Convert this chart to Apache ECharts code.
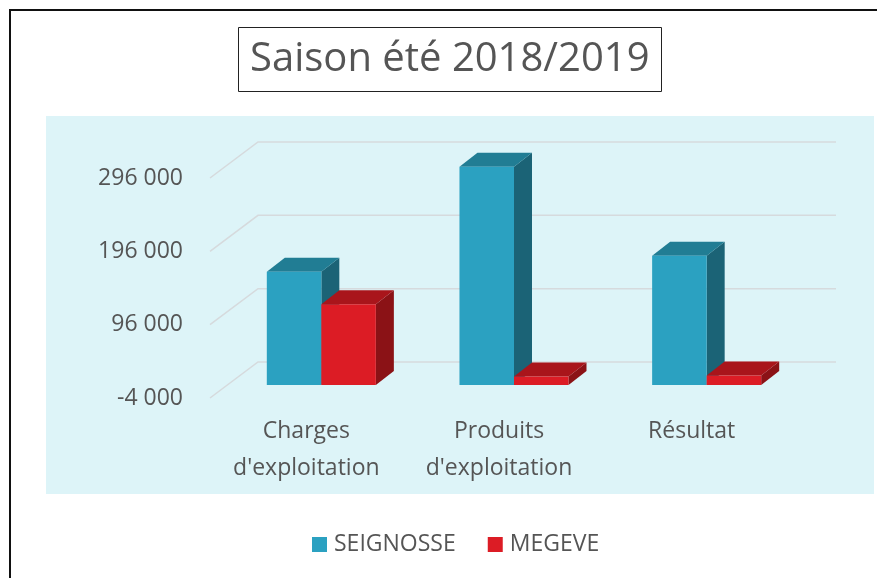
<!DOCTYPE html>
<html>
<head>
<meta charset="utf-8">
<script src="https://cdn.jsdelivr.net/npm/echarts@6/dist/echarts.min.js"></script>
<style>
  html, body { margin: 0; padding: 0; background: #fff; }
  #chart { width: 877px; height: 578px; }
</style>
</head>
<body>
<div id="chart"></div>
<script>
// data
const categories = ['Charges\nd\'exploitation', 'Produits\nd\'exploitation', 'Résultat']
const seignosse = [150500, 293700, 172300]
const megeve = [106000, 7500, 9000]
const yTicks = [-4000, 96000, 196000, 296000]
const seriesNames = ['SEIGNOSSE', 'MEGEVE']

const FONT = '"Open Sans", sans-serif'
const TEXT = '#555'
const DEPTH = [48, -36]       // back wall offset of the fake 3d box
const BAR_SHIFT = [15, -13]   // bar front face sits a bit inside the box
const BAR_DEPTH = [18, -14]

function fmt(v) {
    return String(v).replace(/\B(?=(\d{3})+(?!\d))/g, ' ')
}

function barRenderer(side, colors) {
    return function (params, api) {
        const idx = api.value(0)
        const base = api.coord([idx, yTicks[0]])
        const top = api.coord([idx, api.value(1)])
        const w = api.size([1, 0])[0] * 0.283
        const x0 = base[0] + (side < 0 ? -w : 0) + BAR_SHIFT[0]
        const yb = base[1] + BAR_SHIFT[1]
        const yt = top[1] + BAR_SHIFT[1]
        const dx = BAR_DEPTH[0], dy = BAR_DEPTH[1]
        return {
            type: 'group',
            children: [
                {
                    type: 'polygon',
                    shape: { points: [[x0 + w, yt], [x0 + w + dx, yt + dy], [x0 + w + dx, yb + dy], [x0 + w, yb]] },
                    style: { fill: colors.side }
                },
                {
                    type: 'polygon',
                    shape: { points: [[x0, yt], [x0 + dx, yt + dy], [x0 + w + dx, yt + dy], [x0 + w, yt]] },
                    style: { fill: colors.top }
                },
                {
                    type: 'rect',
                    shape: { x: x0, y: yt, width: w, height: yb - yt },
                    style: { fill: colors.front }
                }
            ]
        }
    }
}

const blue = { front: '#2ba1c1', top: '#217d94', side: '#1b6376' }
const red = { front: '#dc1c25', top: '#a9151b', side: '#8b1216' }

let myChart = echarts.init(document.getElementById('chart'))
myChart.setOption({
    animation: false,
    textStyle: { fontFamily: FONT },
    graphic: [
        {
            type: 'rect', z: -20,
            shape: { x: 10, y: 10, width: 900, height: 620 },
            style: { fill: '#fff', stroke: '#111', lineWidth: 2 }
        },
        {
            type: 'rect', z: -10,
            shape: { x: 46, y: 116, width: 828, height: 378 },
            style: { fill: '#ddf4f8' }
        }
    ],
    title: {
        text: 'Saison été 2018/2019',
        left: 238,
        top: 27,
        padding: [10, 12],
        borderColor: '#222',
        borderWidth: 1,
        textStyle: { fontFamily: FONT, fontSize: 40, fontWeight: 'normal', color: TEXT, lineHeight: 45 }
    },
    legend: {
        data: seriesNames,
        left: 307,
        top: 528,
        icon: 'rect',
        itemWidth: 15,
        itemHeight: 15,
        itemGap: 32,
        textStyle: { fontFamily: FONT, fontSize: 23, color: TEXT, padding: [0, 0, 0, 2] }
    },
    grid: { left: 210, right: 89, top: 178, bottom: 180 },
    xAxis: {
        type: 'category',
        data: categories,
        axisLine: { show: false },
        axisTick: { show: false },
        axisLabel: { interval: 0, fontFamily: FONT, fontSize: 23, lineHeight: 37, color: TEXT, margin: 15 }
    },
    yAxis: {
        type: 'value',
        min: yTicks[0],
        max: yTicks[yTicks.length - 1],
        interval: yTicks[1] - yTicks[0],
        axisLine: { show: false },
        axisTick: { show: false },
        splitLine: { show: false },
        axisLabel: { formatter: fmt, fontFamily: FONT, fontSize: 23, color: TEXT, margin: 27 }
    },
    series: [
        {
            // grid lines of the 3d box: diagonal on the left, then along the back wall
            type: 'custom',
            name: 'grid',
            silent: true,
            z: 1,
            data: yTicks.map(v => [0, v]),
            encode: { x: 0, y: 1 },
            renderItem: function (params, api) {
                const cs = params.coordSys
                const y = api.coord([0, api.value(1)])[1]
                return {
                    type: 'polyline',
                    shape: { points: [[cs.x, y], [cs.x + DEPTH[0], y + DEPTH[1]], [cs.x + cs.width + DEPTH[0], y + DEPTH[1]]] },
                    style: { stroke: '#d6dadd', lineWidth: 1.5, fill: null }
                }
            }
        },
        {
            type: 'custom',
            name: seriesNames[0],
            z: 3,
            itemStyle: { color: blue.front },
            data: seignosse.map((v, i) => [i, v]),
            encode: { x: 0, y: 1 },
            renderItem: barRenderer(-1, blue)
        },
        {
            type: 'custom',
            name: seriesNames[1],
            z: 4,
            itemStyle: { color: red.front },
            data: megeve.map((v, i) => [i, v]),
            encode: { x: 0, y: 1 },
            renderItem: barRenderer(1, red)
        }
    ]
})
</script>
</body>
</html>
